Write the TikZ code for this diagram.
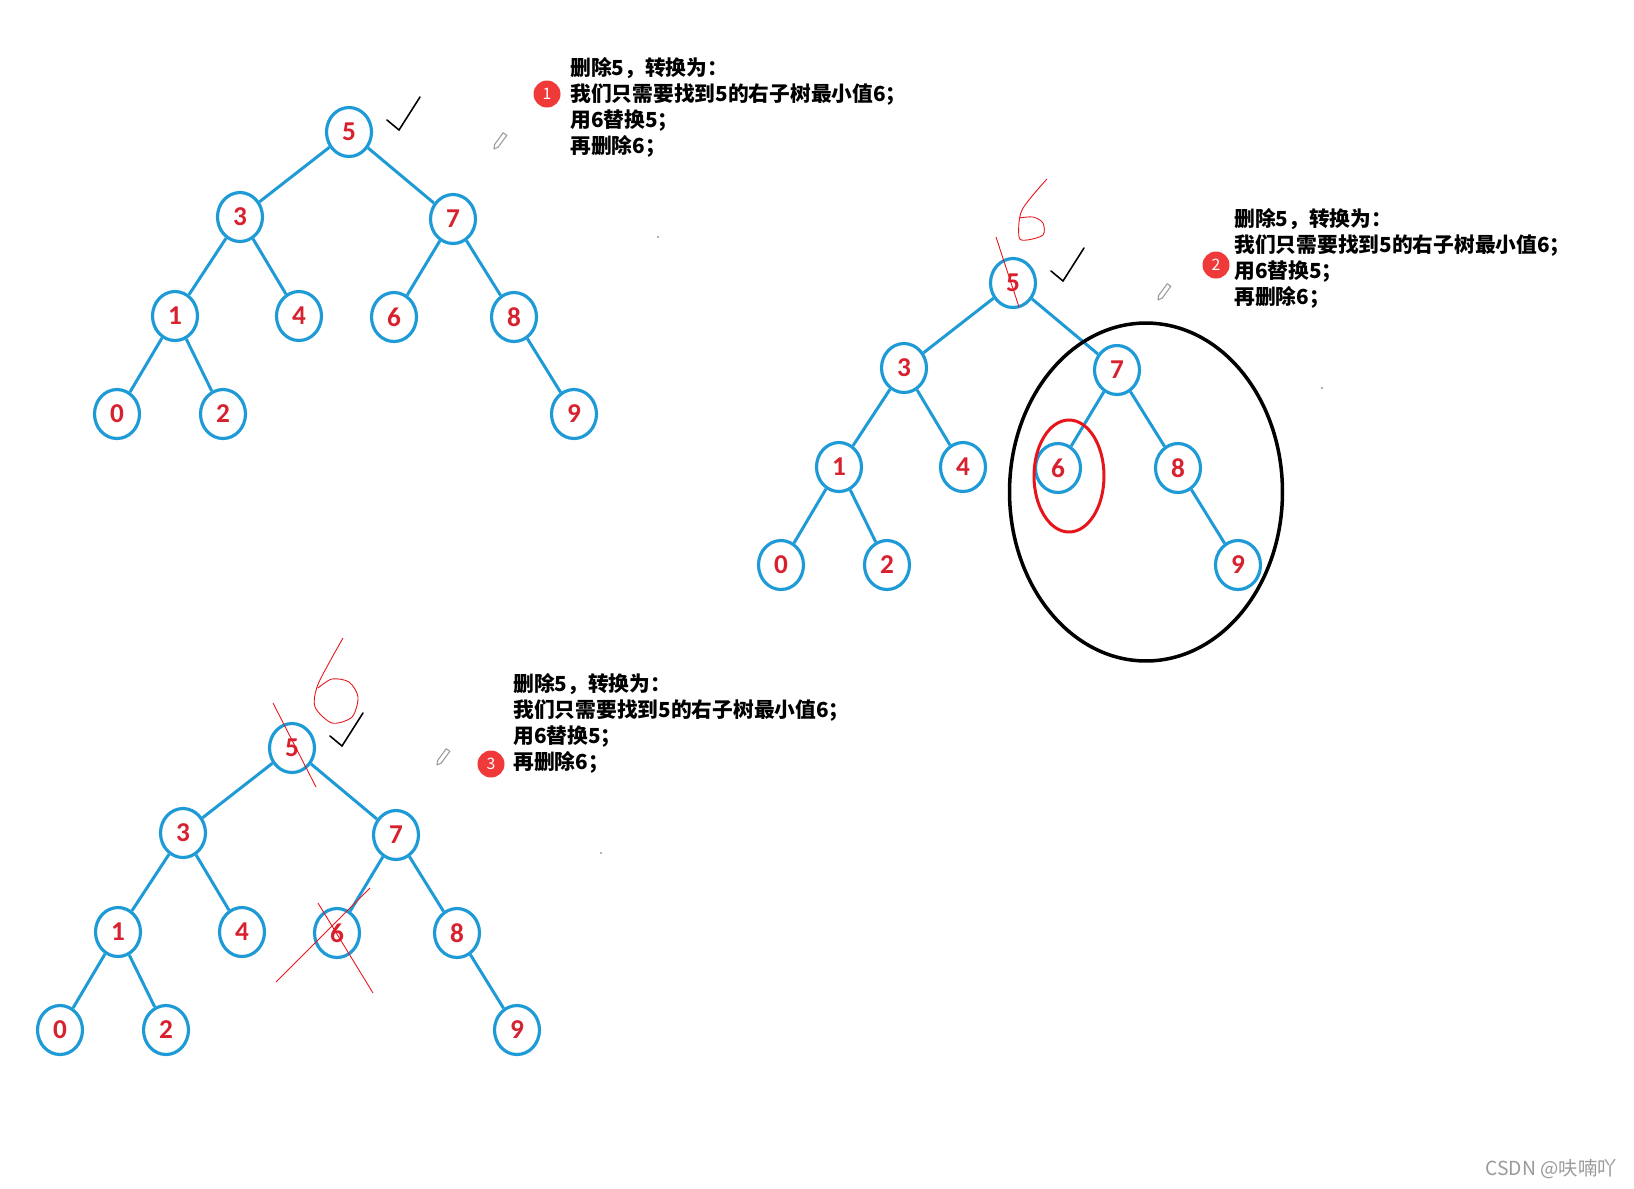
\documentclass[tikz,border=0pt]{standalone}
\usepackage{fontspec}
\setmainfont{Carlito}
\newfontfamily\cjk{Noto Sans CJK SC}
\usetikzlibrary{shapes.geometric}
\definecolor{tblue}{HTML}{1E9AD6}
\definecolor{tred}{HTML}{D7212F}
\definecolor{cbadge}{HTML}{F03A3A}
\definecolor{cpen}{HTML}{E8141C}
\definecolor{cgray}{HTML}{9A9A9A}

\tikzset{
  bnode/.style={ellipse, draw=tblue, line width=1.8pt, fill=white, minimum width=0.9cm,
    minimum height=0.98cm, inner sep=0pt, text=tred, font=\fontsize{15.5}{15.5}\selectfont\bfseries},
  bedge/.style={tblue, line width=1.7pt},
  note/.style={anchor=base west, inner sep=0pt, font=\cjk\bfseries\fontsize{11.8}{14.8}\selectfont},
  badge/.style={circle, fill=cbadge, minimum size=0.54cm, inner sep=0pt, text=white,
    font=\cjk\fontsize{9}{9}\selectfont},
  hand/.style={cpen, line width=0.5pt},
}

% one tree with its notes; coordinates in pixels of the first panel
\newcommand{\bstpanel}[3]{%
  \foreach \k/\x/\y in {5/349/132, 3/240/217, 7/453/219, 1/175/316, 4/299/316,
                        6/394/317, 8/514/317, 0/117/414, 2/223/414, 9/574/414}
    \node[bnode] (n\k) at (\x,\y) {\k};
  \foreach \a/\b in {5/3, 5/7, 3/1, 3/4, 7/6, 7/8, 1/0, 1/2, 8/9}
    \draw[bedge] (n\a) -- (n\b);
  \node[note] (l1) at (570,75.6) {删除5，转换为：};
  \node[note] (l2) at (570,101.6) {我们只需要找到5的右子树最小值6；};
  \node[note] (l3) at (570,127.6) {用6替换5；};
  \node[note] (l4) at (570,153.6) {再删除6；};
  \node[badge] (mark) at (#1,#2) {#3};
  % tick, pencil and stray dot
  \draw[black, line width=0.9pt, line cap=round] (387,120) -- (399,130) -- (420,97);
  \draw[cgray, line width=0.6pt, line join=round] (494,149) -- (498.2,147.1) -- (506.8,135.3)
    -- (503.2,132.7) -- (494.6,144.5) -- cycle;
  \fill[cgray] (658,237) circle (0.7pt);
}

\begin{document}
\begin{tikzpicture}[x=0.02cm, y=-0.02cm]
  \fill[white] (0,0) rectangle (1634,1188);
  \useasboundingbox (0,0) rectangle (1634,1188);

  \begin{scope}[name prefix=a-]
    \bstpanel{547}{94}{1}
  \end{scope}

  \begin{scope}[shift={(664,151)}, name prefix=b-]
    \bstpanel{552}{114}{2}
    \draw[black, line width=2pt] (482,341) ellipse [x radius=2.73cm, y radius=3.38cm];
    \draw[cpen, line width=1.7pt] (405,325) ellipse [x radius=0.7cm, y radius=1.12cm];
    % handwritten 6 over the root
    \draw[hand] plot[smooth, tension=0.5] coordinates {(383,28) (358,59) (355,86) (363,89)
      (379,84) (379,72) (369,66) (355,67)};
    \draw[hand] (332,86) -- (355,156);
  \end{scope}

  \begin{scope}[shift={(-57,616)}, name prefix=c-]
    \bstpanel{548}{148}{3}
    \draw[hand] plot[smooth, tension=0.5] coordinates {(400,22) (386,47) (374,71) (372,91)
      (389,107) (409,101) (415,81) (406,66) (389,63) (375,72)};
    \draw[hand] (330,87) -- (373,171);
    % crossed out leaf
    \draw[hand] (427,272) -- (333,366);
    \draw[hand] (375,287) -- (430,377);
  \end{scope}

  \node[anchor=east, inner sep=0pt, text=cgray, font=\cjk\fontsize{11}{11}\selectfont]
    (csdn) at (1617,1169) {CSDN @呋喃吖};
\end{tikzpicture}
\end{document}
